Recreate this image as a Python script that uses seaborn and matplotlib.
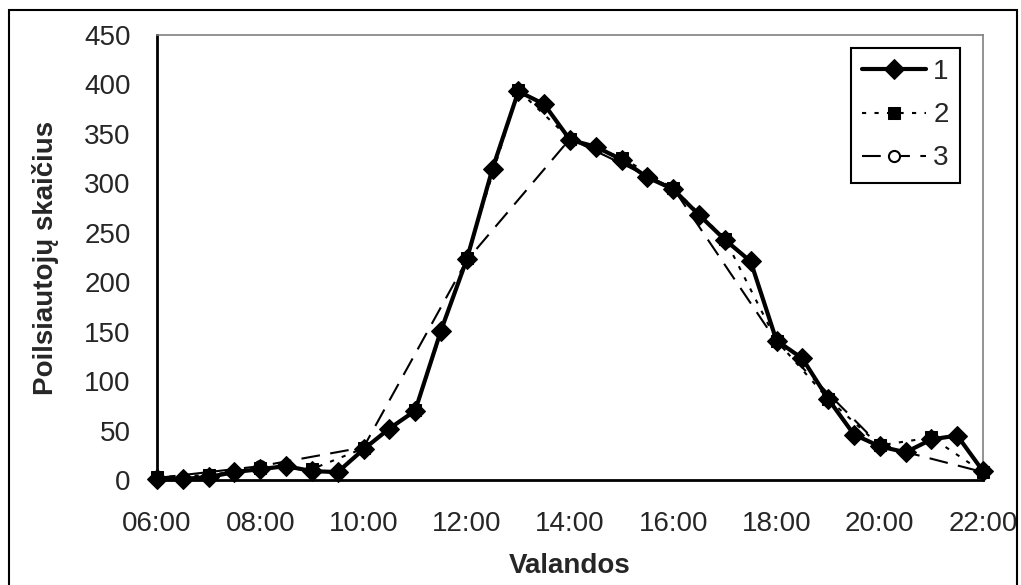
import numpy as np
import pandas as pd
import matplotlib
matplotlib.use("Agg")
import matplotlib.pyplot as plt
from matplotlib.patches import Rectangle
import seaborn as sns

# Data
hours_half = np.arange(6, 22.01, 0.5)
series1 = [1, 1, 3, 8, 11, 14, 9, 8, 31, 52, 70, 151, 223, 315, 393, 380, 344, 337, 324, 306,
           294, 268, 243, 221, 141, 123, 82, 46, 34, 28, 41, 45, 9]
hours_full = np.arange(6, 23, 1)
series2 = [3, 5, 12, 11, 32, 71, 225, 394, 345, 326, 295, 244, 141, 82, 35, 43, 8]
hours_two = np.arange(6, 23, 2)
series3 = [2, 14, 33, 222, 345, 295, 140, 35, 8]
tick_hours = list(range(6, 23, 2))
tick_labels = [f"{h:02d}:00" for h in tick_hours]

df1 = pd.DataFrame({"h": hours_half, "v": series1})
df2 = pd.DataFrame({"h": hours_full, "v": series2})
df3 = pd.DataFrame({"h": hours_two, "v": series3})

sns.set_style("white")
plt.rcParams['font.family'] = ['Liberation Sans', 'DejaVu Sans']

fig = plt.figure(figsize=(10.21, 5.85), dpi=100)
ax = fig.add_axes([157 / 1021, 1 - 480 / 585, 826 / 1021, 445 / 585])

sns.lineplot(data=df3, x="h", y="v", ax=ax, color="black", lw=1.5, dashes=False,
             linestyle=(0, (9, 5)), marker="o", markersize=8, markerfacecolor="white",
             markeredgecolor="black", markeredgewidth=1.5, label="3", zorder=2, clip_on=False)
sns.lineplot(data=df1, x="h", y="v", ax=ax, color="black", lw=3, marker="D", markersize=10,
             markeredgecolor="black", label="1", zorder=3, clip_on=False)
sns.lineplot(data=df2, x="h", y="v", ax=ax, color="black", lw=1.5, linestyle=(0, (2, 4)),
             marker="s", markersize=9, markeredgecolor="black", label="2", zorder=4, clip_on=False)

ax.set_xlim(6, 22)
ax.set_ylim(0, 450)
ax.set_xticks(tick_hours)
ax.set_xticklabels(tick_labels)
ax.set_yticks(range(0, 451, 50))
ax.tick_params(axis="both", labelsize=20, direction="out", length=8, width=1.5, color="black")
ax.tick_params(axis="x", pad=14)
ax.tick_params(axis="y", pad=11)
ax.set_xlabel("Valandos", fontsize=20, fontweight="bold", labelpad=12)
ax.set_ylabel("Poilsiautojų skaičius", fontsize=20, fontweight="bold", labelpad=18)

for side in ["left", "bottom"]:
    ax.spines[side].set_color("black")
    ax.spines[side].set_linewidth(2)
for side in ["top", "right"]:
    ax.spines[side].set_color("#808080")
    ax.spines[side].set_linewidth(1.2)

handles, labels = ax.get_legend_handles_labels()
order = [labels.index(k) for k in ["1", "2", "3"]]
leg = ax.legend([handles[i] for i in order], [labels[i] for i in order],
                loc="upper right", bbox_to_anchor=(0.972, 0.971), fontsize=20,
                frameon=True, fancybox=False, framealpha=1, edgecolor="black",
                handlelength=2.3, labelspacing=0.62, borderpad=0.4, handletextpad=0.25,
                borderaxespad=0)
leg.get_frame().set_linewidth(1.5)

fig.patches.append(Rectangle((9 / 1021, -0.01), 1008 / 1021, 1.01 - 10 / 585,
                             transform=fig.transFigure, fill=False, edgecolor="black",
                             linewidth=1.5, zorder=10))

fig.savefig("out.png", dpi=100)
